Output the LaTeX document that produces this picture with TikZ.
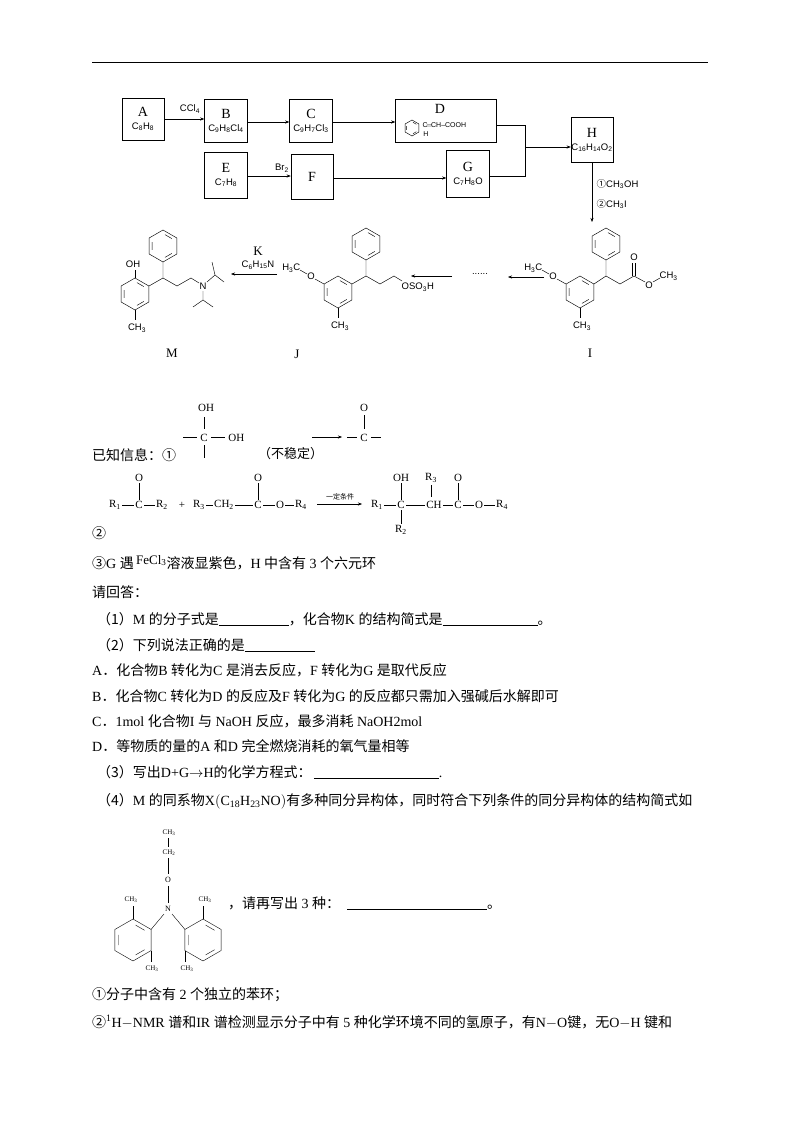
\documentclass[tikz,border=0pt]{standalone}
\usepackage{fontspec}
\setmainfont{Liberation Serif}
\setsansfont{Liberation Sans}
\newfontfamily\cjk{Noto Sans CJK SC}
\usetikzlibrary{arrows.meta}
\newcommand\zh[1]{{\cjk #1}}
\newcommand\su[1]{\textsubscript{#1}}
\newcommand\bl[1]{\rule[-2pt]{#1pt}{0.6pt}}
\newcommand\ring[3]{%
  \draw[shift={(#1,#2)}] (90:#3)--(30:#3)--(-30:#3)--(-90:#3)--(-150:#3)--(150:#3)--cycle;
  \draw[shift={(#1,#2)}] (80:{0.72*#3})--(40:{0.72*#3}) (-40:{0.72*#3})--(-80:{0.72*#3}) (-160:{0.72*#3})--(160:{0.72*#3});}
\begin{document}
\begin{tikzpicture}[x=1pt,y=-1pt,
  box/.style={draw,line width=0.5pt,minimum width=#1pt,inner sep=0pt,align=center,font=\fontsize{14}{13}\selectfont},
  arr/.style={-{Stealth[length=4pt,width=3pt]},line width=0.4pt},
  lab/.style={inner sep=0.5pt,font=\sffamily\fontsize{9.5}{10}\selectfont},
  txt/.style={anchor=base west,inner sep=0pt,font=\fontsize{14}{16}\selectfont},
  ch/.style={inner sep=1.2pt,font=\fontsize{11}{12}\selectfont},
  line width=0.45pt]
\useasboundingbox[fill=white] (0,0) rectangle (800,1132);
\draw[line width=1pt] (92,63)--(708,63);
% flow chart
\newcommand\fl[1]{{\sffamily\fontsize{9.5}{10}\selectfont #1}}
\node[box=42,minimum height=42pt] (A) at (143,119) {A\\\fl{C\su8H\su8}};
\node[box=43,minimum height=43pt] (B) at (226,121) {B\\\fl{C\su9H\su8Cl\su4}};
\node[box=43,minimum height=43pt] (C) at (311,121) {C\\\fl{C\su9H\su7Cl\su3}};
\node[box=101,minimum height=43pt] (D) at (446,121) {};
\node[font=\fontsize{14}{14}\selectfont] (Dl) at (440,109) {D};
\ring{412}{128}{8}
\node[lab,font=\sffamily\fontsize{7}{7}\selectfont,anchor=west] (Dt) at (422,125) {C$\!=\!$CH--COOH};
\node[lab,font=\sffamily\fontsize{7}{7}\selectfont] (Dh) at (426,134) {H};
\node[box=43,minimum height=46pt] (E) at (226,175) {E\\\fl{C\su7H\su8}};
\node[box=42,minimum height=45pt] (F) at (312,177) {F};
\node[box=43,minimum height=47pt] (G) at (468,174) {G\\\fl{C\su7H\su8O}};
\node[box=42,minimum height=45pt] (H) at (592,140) {H\\\fl{C\su{16}H\su{14}O\su2}};
\draw[arr] (A.east) -- (A.east -| B.west);
\node[lab] at (190,109) {CCl\su4};
\draw[arr] (B.east |- 0,122) -- (C.west |- 0,122);
\draw[arr] (C.east |- 0,122) -- (D.west |- 0,122);
\draw[arr] (E.east |- 0,176) -- (F.west |- 0,176);
\node[lab] at (282,168) {Br\su2};
\draw[arr] (F.east |- 0,178) -- (G.west |- 0,178);
\coordinate (jn) at (525,147);
\draw (D.east |- 0,125) -- (525,125) -- (525,176) -- (G.east |- 0,176);
\draw[arr] (jn) -- (jn -| H.west);
\coordinate (hi) at (H.south |- 0,222);
\draw[arr] (H.south) -- (hi);
\node[lab,anchor=west] at (596,184) {\zh{①}CH\su3OH};
\node[lab,anchor=west] at (596,204) {\zh{②}CH\su3I};
% I
\ring{580}{292}{16}
\ring{606}{244}{16}
\draw (594,284)--(606,276)--(606,260);
\draw (606,276)--(620,284)--(634,276);
\draw (632.5,276)--(632.5,263) (635.5,276)--(635.5,263);
\node[lab] at (634,257) {O};
\draw (634,276)--(645,282);
\node[lab] (Io) at (649,285) {O};
\draw (653,282)--(660,278);
\node[lab,anchor=west] at (659,276) {CH\su3};
\draw (566,284)--(557,279);
\node[lab] at (553,276) {O};
\draw (542,270)--(549,274);
\node[lab,anchor=east] at (543,268) {H\su3C};
\draw (580,308)--(580,318);
\node[lab] at (582,326) {CH\su3};
\node[font=\fontsize{13}{13}\selectfont] at (590,353) {I};
% J
\begin{scope}[xshift=6pt]
\ring{332}{292}{16}
\ring{360}{244}{16}
\draw (346,284)--(360,276)--(360,260);
\draw (360,276)--(374,284)--(388,276)--(396,281);
\node[lab,anchor=west] at (395,287) {OSO\su3H};
\draw (318,284)--(309,279);
\node[lab] at (305,276) {O};
\draw (294,270)--(301,274);
\node[lab,anchor=east] at (295,268) {H\su3C};
\draw (332,308)--(332,318);
\node[lab] at (334,326) {CH\su3};
\end{scope}
\node[font=\fontsize{13}{13}\selectfont] at (297,354) {J};
% M
\ring{135}{294}{16}
\ring{163}{246}{16}
\draw (135,278)--(135,270);
\node[lab] at (133,264) {OH};
\draw (149,286)--(163,278)--(163,262);
\draw (163,278)--(177,286)--(191,278)--(199,283);
\node[lab] (N) at (203,286) {N};
\draw (207,282)--(215,275)--(212,262) (215,275)--(224,282);
\draw (203,291)--(203,300)--(193,307) (203,300)--(213,307);
\draw (135,310)--(135,320);
\node[lab] at (137,328) {CH\su3};
\node[font=\fontsize{13}{13}\selectfont] at (172,353) {M};
% arrows bottom row
\coordinate (i1) at (544,277); \coordinate (i2) at (508,277);
\draw[arr] (i1)--(i2);
\node[lab] at (480,274) {......};
\coordinate (j1) at (452,276); \coordinate (j2) at (411,276);
\draw[arr] (j1)--(j2);
\coordinate (k1) at (277,274); \coordinate (k2) at (231,274);
\draw[arr] (k1)--(k2);
\node[font=\fontsize{13}{13}\selectfont] at (258,251) {K};
\node[lab] at (258,265) {C\su6H\su{15}N};
% known info 1
\node[txt] at (92,460) {\zh{已知信息：①}};
\node[ch] at (206,408) {OH};
\draw (204,417)--(204,429);
\node[ch] at (204,438) {C};
\draw (183,437)--(197,437) (211,437)--(225,437) (204,445)--(204,458);
\node[ch,anchor=west] at (227,438) {OH};
\node[txt,font=\fontsize{13}{14}\selectfont] at (258,458) {\zh{（不稳定）}};
\draw[arr] (312,437)--(342,437);
\node[ch] at (364,408) {O};
\draw (364,415)--(364,429);
\node[ch] at (364,438) {C};
\draw (347,437)--(357,437) (371,437)--(381,437);
% known info 2
\node[ch] (r1) at (115,505) {R\su1};
\node[ch] (c1) at (139,505) {C};
\node[ch] (r2) at (162,505) {R\su2};
\node[ch] (pl) at (182,505) {+};
\node[ch] (r3) at (199,505) {R\su3};
\node[ch] (ch2) at (224,505) {CH\su2};
\node[ch] (c2) at (258,505) {C};
\node[ch] (o2) at (280,505) {O};
\node[ch] (r4) at (301,505) {R\su4};
\node[ch] (o1) at (139,478) {O};
\node[ch] (o3) at (258,478) {O};
\draw (r1)--(c1)--(r2) (r3)--(ch2)--(c2)--(o2)--(r4) (c1)--(o1) (c2)--(o3);
\draw[arr] (317,504)--(362,504);
\node[font=\fontsize{7}{8}\selectfont\cjk,inner sep=0] at (340,497) {一定条件};
\node[ch] (p1) at (377,505) {R\su1};
\node[ch] (pc) at (401,505) {C};
\node[ch] (pch) at (434,505) {CH};
\node[ch] (pc2) at (458,505) {C};
\node[ch] (po) at (479,505) {O};
\node[ch] (pr4) at (502,505) {R\su4};
\node[ch] (poh) at (401,478) {OH};
\node[ch] (pr3) at (431,478) {R\su3};
\node[ch] (po2) at (458,478) {O};
\node[ch] (pr2) at (401,530) {R\su2};
\draw (p1)--(pc)--(pch)--(pc2)--(po)--(pr4) (pc)--(poh) (pc)--(pr2) (pc2)--(po2) (431,485)--(431,497);
\node[txt] at (92,538) {\zh{②}};
\node[txt] at (92,568) {\zh{③}G \zh{遇}\,\raisebox{4pt}{\fontsize{13}{13}\selectfont FeCl\su3}\zh{溶液显紫色，}H \zh{中含有} 3 \zh{个六元环}};
\node[txt] at (92,597) {\zh{请回答：}};
\node[txt] at (97,624) {\zh{（1）}M \zh{的分子式是}\bl{70}\zh{，化合物}K \zh{的结构简式是}\bl{95}\zh{。}};
\node[txt] at (97,650) {\zh{（2）下列说法正确的是}\bl{70}};
\node[txt] at (92,675) {A\zh{．化合物}B \zh{转化为}C \zh{是消去反应，}F \zh{转化为}G \zh{是取代反应}};
\node[txt] at (92,701) {B\zh{．化合物}C \zh{转化为}D \zh{的反应及}F \zh{转化为}G \zh{的反应都只需加入强碱后水解即可}};
\node[txt] at (92,726) {C\zh{．}1mol \zh{化合物}I \zh{与} NaOH \zh{反应，最多消耗} NaOH2mol};
\node[txt] at (92,751) {D\zh{．等物质的量的}A \zh{和}D \zh{完全燃烧消耗的氧气量相等}};
\node[txt] at (97,777) {\zh{（3）写出}D+G$\rightarrow$H\zh{的化学方程式：}\,\bl{125}.};
\node[txt] at (97,805) {\zh{（4）}M \zh{的同系物}X$\bigl($C\su{18}H\su{23}NO$\bigr)$\zh{有多种同分异构体，同时符合下列条件的同分异构体的结构简式如}};
% structure (4)
\begin{scope}[line width=0.4pt]
\node[lab,font=\fontsize{7}{8}\selectfont] at (169,833) {CH\su3};
\draw (168,838)--(168,847);
\node[lab,font=\fontsize{7}{8}\selectfont] at (169,853) {CH\su2};
\draw (168,858)--(168,874);
\node[lab,font=\fontsize{8}{8}\selectfont] at (168,880) {O};
\draw (168,886)--(168,903);
\node[lab,font=\fontsize{8}{8}\selectfont] at (168,909) {N};
\ring{133}{940}{21}
\ring{203}{940}{21}
\draw (164,914)--(151,929.5) (172,914)--(185,929.5);
\draw (133,919)--(133,906) (151,950.5)--(151,962) (203,919)--(203,906) (185,950.5)--(185,962);
\node[lab,font=\fontsize{7}{8}\selectfont] at (131,900) {CH\su3};
\node[lab,font=\fontsize{7}{8}\selectfont] at (205,900) {CH\su3};
\node[lab,font=\fontsize{7}{8}\selectfont] at (152,969) {CH\su3};
\node[lab,font=\fontsize{7}{8}\selectfont] at (187,969) {CH\su3};
\end{scope}
\node[txt] at (228,908) {\zh{，请再写出} 3 \zh{种：}\ \ \bl{140}\zh{。}};
\node[txt] at (92,999) {\zh{①分子中含有} 2 \zh{个独立的苯环；}};
\node[txt] at (92,1027) {\zh{②}\textsuperscript{1}H$-$NMR \zh{谱和}IR \zh{谱检测显示分子中有} 5 \zh{种化学环境不同的氢原子，有}N$-$O\zh{键，无}O$-$H \zh{键和}};
\end{tikzpicture}
\end{document}
